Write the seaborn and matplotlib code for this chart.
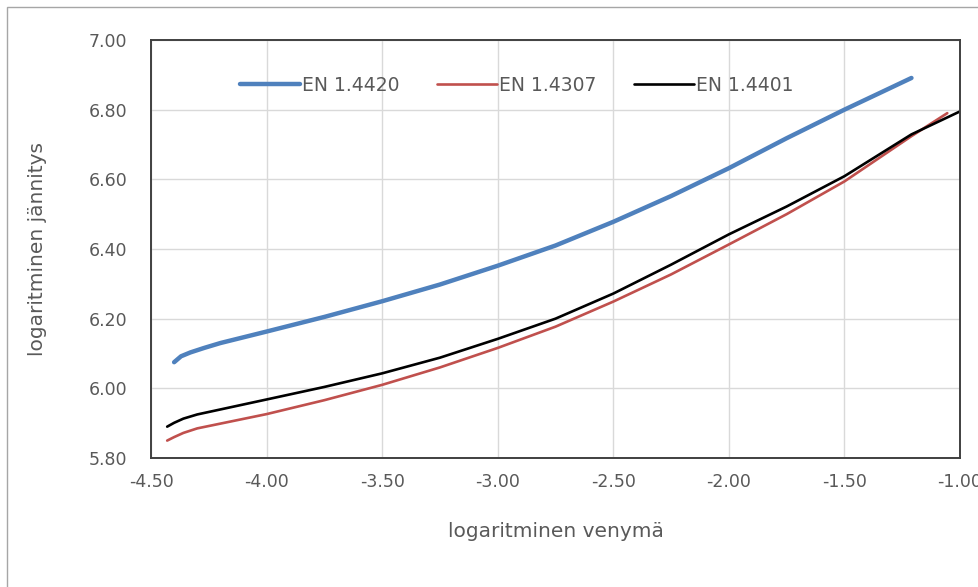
import matplotlib
matplotlib.use("Agg")
import matplotlib.pyplot as plt
import matplotlib.patches as mpatches
import numpy as np
import pandas as pd
import seaborn as sns

# ---- data ----
x_1_4420 = [-4.40, -4.37, -4.33, -4.27, -4.20, -4.00, -3.75, -3.50, -3.25, -3.00, -2.75,
            -2.50, -2.25, -2.00, -1.75, -1.50, -1.35, -1.21]
y_1_4420 = [6.075, 6.092, 6.103, 6.116, 6.130, 6.163, 6.205, 6.250, 6.298, 6.352, 6.410,
            6.478, 6.552, 6.632, 6.718, 6.800, 6.847, 6.891]

x_1_4307 = [-4.43, -4.40, -4.36, -4.30, -4.00, -3.75, -3.50, -3.25, -3.00, -2.75, -2.50,
            -2.25, -2.00, -1.75, -1.50, -1.21, -1.055]
y_1_4307 = [5.850, 5.860, 5.872, 5.885, 5.926, 5.966, 6.010, 6.060, 6.116, 6.177, 6.249,
            6.327, 6.413, 6.500, 6.594, 6.724, 6.790]

x_1_4401 = [-4.43, -4.40, -4.36, -4.30, -4.00, -3.75, -3.50, -3.25, -3.00, -2.75, -2.50,
            -2.25, -2.00, -1.75, -1.50, -1.21, -1.00]
y_1_4401 = [5.890, 5.901, 5.913, 5.925, 5.968, 6.004, 6.043, 6.088, 6.142, 6.200, 6.272,
            6.355, 6.442, 6.522, 6.609, 6.729, 6.795]

series_names = ["EN 1.4420", "EN 1.4307", "EN 1.4401"]
x_ticks = [-4.5, -4.0, -3.5, -3.0, -2.5, -2.0, -1.5, -1.0]
y_ticks = [5.8, 6.0, 6.2, 6.4, 6.6, 6.8, 7.0]
x_label = "logaritminen venymä"
y_label = "logaritminen jännitys"

frames = []
for name, xs, ys in zip(series_names,
                        [x_1_4420, x_1_4307, x_1_4401],
                        [y_1_4420, y_1_4307, y_1_4401]):
    frames.append(pd.DataFrame({"x": xs, "y": ys, "material": name}))
df = pd.concat(frames, ignore_index=True)

colors = {"EN 1.4420": "#4F81BD", "EN 1.4307": "#C0504D", "EN 1.4401": "#000000"}
widths = {"EN 1.4420": 3.2, "EN 1.4307": 1.9, "EN 1.4401": 1.9}

sns.set_theme(style="white")
plt.rcParams["font.family"] = ["DejaVu Sans"]
text_color = "#595959"

fig = plt.figure(figsize=(9.79, 5.87), dpi=100)
ax = fig.add_axes([151 / 979, 1 - 458 / 587, (960 - 151) / 979, (458 - 40) / 587])

for name in series_names:
    sub = df[df["material"] == name]
    sns.lineplot(data=sub, x="x", y="y", ax=ax, color=colors[name],
                 linewidth=widths[name], label=name, sort=False,
                 estimator=None, solid_capstyle="round", solid_joinstyle="round")

ax.set_xlim(-4.5, -1.0)
ax.set_ylim(5.8, 7.0)
ax.set_xticks(x_ticks)
ax.set_yticks(y_ticks)
ax.set_xticklabels([f"{v:.2f}" for v in x_ticks])
ax.set_yticklabels([f"{v:.2f}" for v in y_ticks])
ax.grid(True, color="#d9d9d9", linewidth=1)
ax.set_axisbelow(True)
ax.tick_params(axis="both", length=0, labelsize=12.5, colors=text_color)
ax.tick_params(axis="y", pad=17)
ax.tick_params(axis="x", pad=11)
for sp in ax.spines.values():
    sp.set_visible(True)
    sp.set_color("#404040")
    sp.set_linewidth(1.4)

ax.set_xlabel(x_label, fontsize=14.5, color=text_color, labelpad=22)
ax.set_ylabel(y_label, fontsize=14.5, color=text_color, labelpad=30)

leg = ax.legend(loc="center", bbox_to_anchor=(0.452, 0.892), ncol=3, frameon=False,
                fontsize=13.5, handlelength=3.2, handletextpad=0.1, columnspacing=2.0)
for t in leg.get_texts():
    t.set_color(text_color)

# outer chart border
fig.patches.append(mpatches.Rectangle((7 / 979, -0.1), 2.0, 1.1 - 7 / 587,
                                      transform=fig.transFigure, fill=False,
                                      edgecolor="#a6a6a6", linewidth=1.0))

fig.savefig("out.png", dpi=100)
